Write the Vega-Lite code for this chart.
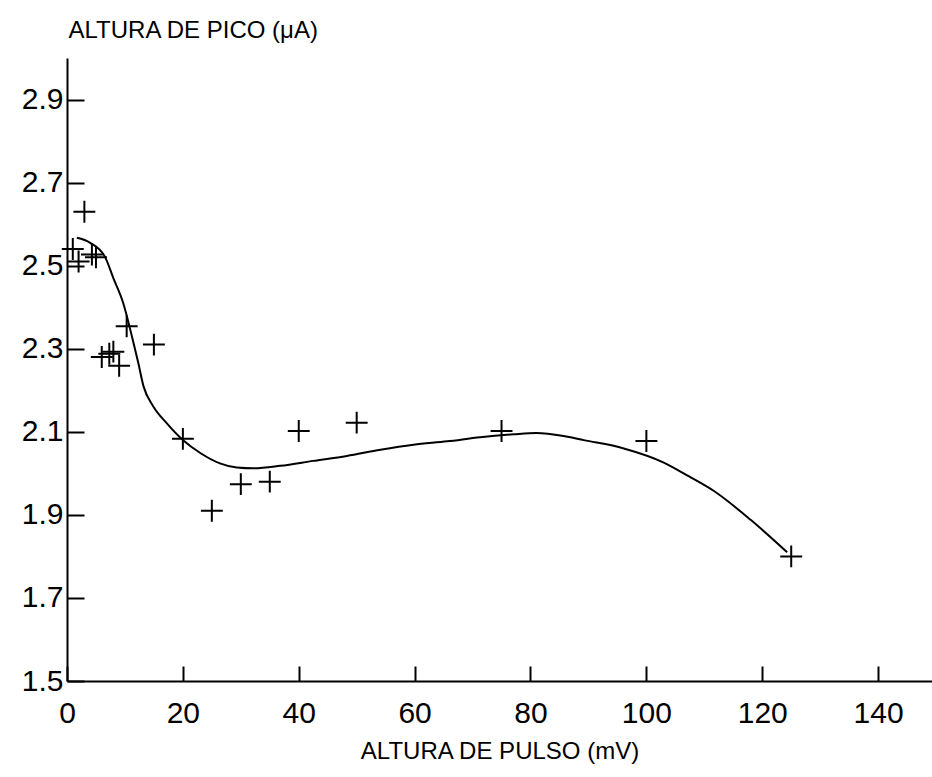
{
  "$schema": "https://vega.github.io/schema/vega-lite/v6.json",
  "width": 865,
  "height": 623,
  "autosize": {"type": "none"},
  "padding": {"left": 67, "top": 58, "right": 0, "bottom": 96},
  "background": "white",
  "config": {
    "view": {"stroke": null},
    "font": "Liberation Sans",
    "axis": {
      "grid": false,
      "domainColor": "black",
      "domainWidth": 2,
      "tickColor": "black",
      "tickWidth": 2,
      "labelColor": "black",
      "labelFont": "Liberation Sans",
      "labelFontSize": 30,
      "titleColor": "black",
      "titleFont": "Liberation Sans",
      "titleFontSize": 24,
      "titleFontWeight": "normal"
    }
  },
  "datasets": {
    "medidas": [
      {"pulso": 1, "pico": 2.54},
      {"pulso": 2, "pico": 2.51},
      {"pulso": 3, "pico": 2.63},
      {"pulso": 4.3, "pico": 2.527},
      {"pulso": 5, "pico": 2.52},
      {"pulso": 6, "pico": 2.28},
      {"pulso": 7.3, "pico": 2.288},
      {"pulso": 8, "pico": 2.293},
      {"pulso": 9, "pico": 2.259},
      {"pulso": 10.3, "pico": 2.354},
      {"pulso": 15, "pico": 2.31},
      {"pulso": 20, "pico": 2.083},
      {"pulso": 25, "pico": 1.91},
      {"pulso": 30, "pico": 1.974},
      {"pulso": 35, "pico": 1.98},
      {"pulso": 40, "pico": 2.102},
      {"pulso": 50, "pico": 2.122},
      {"pulso": 75, "pico": 2.102},
      {"pulso": 100, "pico": 2.078},
      {"pulso": 125, "pico": 1.8}
    ],
    "ajuste": [
      {"pulso": 1.7, "pico": 2.567},
      {"pulso": 4.0, "pico": 2.555},
      {"pulso": 6.6, "pico": 2.52},
      {"pulso": 8.0, "pico": 2.47},
      {"pulso": 9.7, "pico": 2.41},
      {"pulso": 11.2, "pico": 2.33},
      {"pulso": 12.3, "pico": 2.266},
      {"pulso": 13.2, "pico": 2.21},
      {"pulso": 14.9, "pico": 2.161},
      {"pulso": 17.2, "pico": 2.121},
      {"pulso": 20.1, "pico": 2.079},
      {"pulso": 23.0, "pico": 2.049},
      {"pulso": 26.4, "pico": 2.024},
      {"pulso": 29.3, "pico": 2.014},
      {"pulso": 32.2, "pico": 2.012},
      {"pulso": 36.8, "pico": 2.018},
      {"pulso": 42.5, "pico": 2.03},
      {"pulso": 48.3, "pico": 2.042},
      {"pulso": 54.1, "pico": 2.057},
      {"pulso": 59.8, "pico": 2.069},
      {"pulso": 65.6, "pico": 2.077},
      {"pulso": 71.3, "pico": 2.087},
      {"pulso": 77.1, "pico": 2.094},
      {"pulso": 81.0, "pico": 2.097},
      {"pulso": 85.7, "pico": 2.09},
      {"pulso": 89.2, "pico": 2.08},
      {"pulso": 96.1, "pico": 2.06},
      {"pulso": 103.0, "pico": 2.026},
      {"pulso": 107.3, "pico": 1.993},
      {"pulso": 111.6, "pico": 1.958},
      {"pulso": 118.0, "pico": 1.888},
      {"pulso": 124.3, "pico": 1.81}
    ]
  },
  "layer": [
    {
      "mark": {"type": "rule", "color": "black", "strokeWidth": 2},
      "encoding": {
        "y": {"datum": 3.0, "type": "quantitative", "scale": {"domain": [1.5, 3.0]}}
      }
    },
    {
      "data": {"name": "ajuste"},
      "mark": {"type": "line", "color": "black", "strokeWidth": 2, "interpolate": "monotone"},
      "encoding": {
        "x": {"field": "pulso", "type": "quantitative", "scale": {"domain": [0, 149.3], "nice": false, "zero": false}},
        "y": {"field": "pico", "type": "quantitative", "scale": {"domain": [1.5, 3.0], "nice": false, "zero": false}}
      }
    },
    {
      "data": {"name": "medidas"},
      "mark": {"type": "point", "shape": "M-1,0L1,0M0,-1L0,1", "filled": false, "stroke": "black", "strokeWidth": 2, "size": 480, "opacity": 1},
      "encoding": {
        "x": {
          "field": "pulso",
          "type": "quantitative",
          "scale": {"domain": [0, 149.3], "nice": false, "zero": false},
          "axis": {
            "title": "ALTURA DE PULSO (mV)",
            "values": [0, 20, 40, 60, 80, 100, 120, 140],
            "tickSize": -15,
            "labelPadding": 32,
            "labelFlush": false,
            "labelOverlap": false,
            "titleY": 70,
            "titleBaseline": "middle"
          }
        },
        "y": {
          "field": "pico",
          "type": "quantitative",
          "scale": {"domain": [1.5, 3.0], "nice": false, "zero": false},
          "axis": {
            "title": "ALTURA DE PICO (μA)",
            "values": [1.5, 1.7, 1.9, 2.1, 2.3, 2.5, 2.7, 2.9],
            "format": ".1f",
            "tickSize": -17,
            "labelPadding": 21,
            "labelFlush": false,
            "labelOverlap": false,
            "titleAngle": 0,
            "titleAlign": "left",
            "titleBaseline": "middle",
            "titleX": 1,
            "titleY": -28
          }
        }
      }
    }
  ]
}
